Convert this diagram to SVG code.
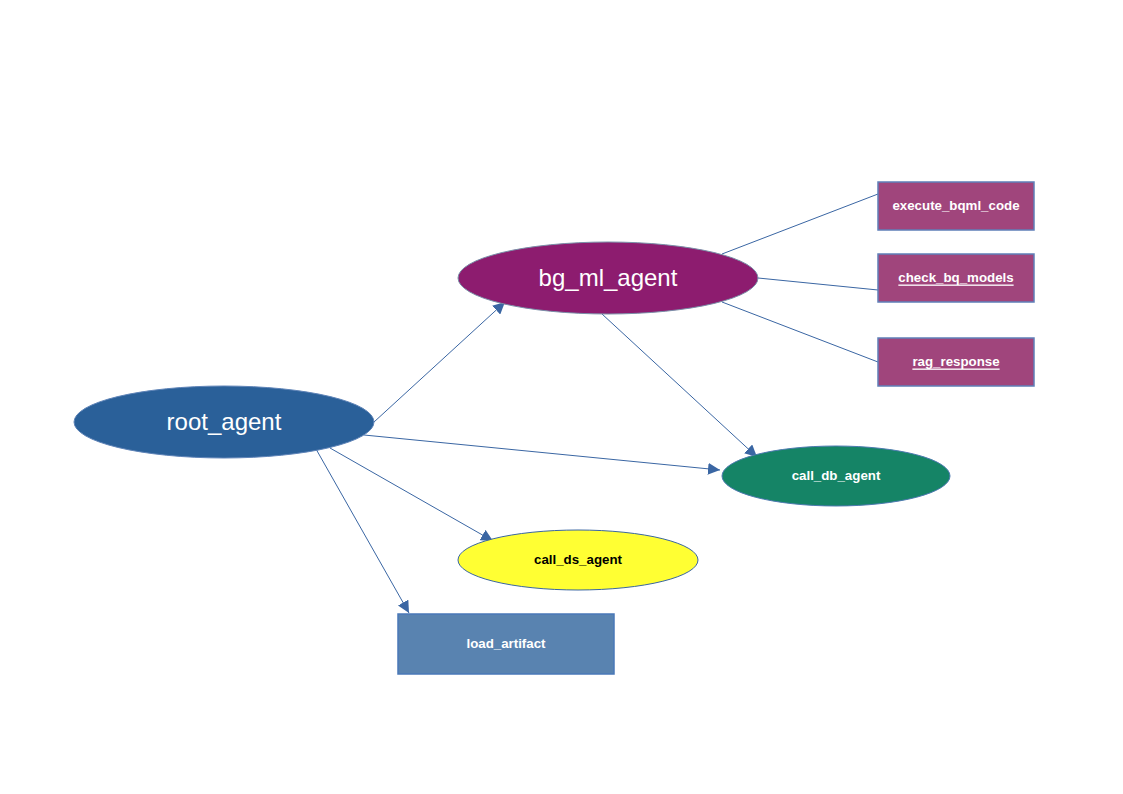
<svg xmlns="http://www.w3.org/2000/svg" width="1123" height="794" viewBox="0 0 1123 794">
<style>
.lbl{font-family:"Liberation Sans",Arial,sans-serif;fill:#ffffff;text-anchor:middle;dominant-baseline:central}
.big{font-size:24px}
.small{font-size:13.3px;font-weight:bold}
.c{stroke:#3a66a3;stroke-width:1;fill:none}
.tool{fill:#a0457c;stroke:#5f7fb8;stroke-width:1.5}
</style>
<defs>
<marker id="ah" viewBox="0 0 10 10" refX="10" refY="5" markerWidth="12" markerHeight="12" markerUnits="userSpaceOnUse" orient="auto">
<path d="M0,0 L10,5 L0,10 z" fill="#3a66a3"/>
</marker>
</defs>
<rect width="1123" height="794" fill="#ffffff"/>
<g id="connectors">
<line class="c" x1="374" y1="422" x2="505" y2="302" marker-end="url(#ah)"/>
<line class="c" x1="364" y1="435" x2="720" y2="470" marker-end="url(#ah)"/>
<line class="c" x1="330" y1="448" x2="493" y2="541" marker-end="url(#ah)"/>
<line class="c" x1="316" y1="449" x2="409" y2="613" marker-end="url(#ah)"/>
<line class="c" x1="602" y1="314" x2="757" y2="457" marker-end="url(#ah)"/>
<line class="c" x1="722" y1="254" x2="878" y2="194"/>
<line class="c" x1="758" y1="278" x2="878" y2="290"/>
<line class="c" x1="722" y1="302" x2="878" y2="362"/>
</g>
<g id="root_agent">
<ellipse cx="224" cy="422" rx="150" ry="36" fill="#2a6099" stroke="#5f84b8" stroke-width="1"/>
<text class="lbl big" x="224" y="421">root_agent</text>
</g>
<g id="bg_ml_agent">
<ellipse cx="608" cy="278" rx="150" ry="36" fill="#8d1c6f" stroke="#7a8fa8" stroke-width="1"/>
<text class="lbl big" x="608" y="277">bg_ml_agent</text>
</g>
<g id="call_db_agent">
<ellipse cx="836" cy="476" rx="114" ry="30" fill="#158466" stroke="#4d7ab0" stroke-width="1"/>
<text class="lbl small" x="836" y="475">call_db_agent</text>
</g>
<g id="call_ds_agent">
<ellipse cx="578" cy="560" rx="120" ry="30" fill="#ffff33" stroke="#3a66a3" stroke-width="1"/>
<text class="lbl small" x="578" y="559" style="fill:#000000">call_ds_agent</text>
</g>
<g id="load_artifact">
<rect x="398" y="614" width="216" height="60" fill="#5983b0" stroke="#4a78b8" stroke-width="1.5"/>
<text class="lbl small" x="506" y="643">load_artifact</text>
</g>
<g id="execute_bqml_code">
<rect class="tool" x="878" y="182" width="156" height="48"/>
<text class="lbl small" x="956" y="205">execute_bqml_code</text>
</g>
<g id="check_bq_models">
<rect class="tool" x="878" y="254" width="156" height="48"/>
<text class="lbl small" x="956" y="277" text-decoration="underline">check_bq_models</text>
</g>
<g id="rag_response">
<rect class="tool" x="878" y="338" width="156" height="48"/>
<text class="lbl small" x="956" y="361" text-decoration="underline">rag_response</text>
</g>
</svg>
